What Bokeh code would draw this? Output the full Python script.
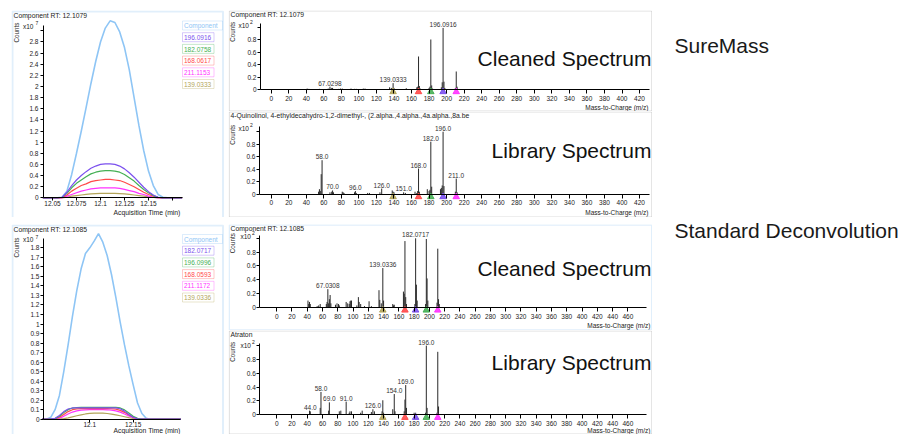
import math
from bokeh.plotting import figure
from bokeh.models import (Range1d, FixedTicker, NumeralTickFormatter, Label, LabelSet,
                          BoxAnnotation, ColumnDataSource, Spacer)
from bokeh.layouts import row, column
from bokeh.embed import file_html
from bokeh.resources import INLINE
from bokeh.core.properties import value

FONT = "Liberation Sans"

# ---------------- chromatogram data (x10^7 counts) ----------------
time_top = [12.040, 12.045, 12.050, 12.055, 12.060, 12.065, 12.070, 12.075, 12.080, 12.085,
            12.090, 12.095, 12.100, 12.105, 12.110, 12.115, 12.120, 12.125, 12.130, 12.135,
            12.140, 12.145, 12.150, 12.155, 12.160, 12.165, 12.170, 12.175, 12.180, 12.185]
comp_top = [0, 0, 0, 0, 0.01, 0.12, 0.42, 0.80, 1.20, 1.62, 2.05, 2.45, 2.80, 3.05, 3.18,
            3.15, 2.98, 2.70, 2.30, 1.80, 1.30, 0.85, 0.48, 0.22, 0.06, 0.01, 0, 0, 0, 0]
ion196_top = [0, 0, 0, 0, 0.01, 0.10, 0.22, 0.32, 0.40, 0.47, 0.53, 0.57, 0.60, 0.61, 0.61,
              0.60, 0.57, 0.52, 0.45, 0.37, 0.28, 0.19, 0.11, 0.05, 0.01, 0, 0, 0, 0, 0]
ion182_top = [0, 0, 0, 0, 0.01, 0.08, 0.18, 0.26, 0.32, 0.38, 0.43, 0.46, 0.48, 0.49, 0.49,
              0.48, 0.46, 0.42, 0.36, 0.30, 0.22, 0.15, 0.09, 0.04, 0.01, 0, 0, 0, 0, 0]
ion168_top = [0, 0, 0, 0, 0.005, 0.05, 0.12, 0.17, 0.22, 0.25, 0.29, 0.31, 0.32, 0.33, 0.33,
              0.32, 0.31, 0.28, 0.24, 0.20, 0.15, 0.10, 0.06, 0.03, 0.005, 0, 0, 0, 0, 0]
ion211_top = [0, 0, 0, 0, 0, 0.03, 0.06, 0.09, 0.12, 0.14, 0.16, 0.17, 0.18, 0.18, 0.18,
              0.18, 0.17, 0.15, 0.13, 0.11, 0.08, 0.06, 0.03, 0.01, 0, 0, 0, 0, 0, 0]
ion139_top = [0, 0, 0, 0, 0, 0.01, 0.03, 0.04, 0.05, 0.06, 0.07, 0.075, 0.08, 0.08, 0.08,
              0.08, 0.075, 0.07, 0.06, 0.05, 0.04, 0.03, 0.015, 0.005, 0, 0, 0, 0, 0, 0]
legend_top = ["Component", "196.0916", "182.0758", "168.0617", "211.1153", "139.0333"]

time_bot = [12.045, 12.050, 12.055, 12.060, 12.065, 12.070, 12.075, 12.080, 12.085, 12.090,
            12.095, 12.100, 12.105, 12.110, 12.115, 12.120, 12.125, 12.130, 12.135, 12.140,
            12.145, 12.150, 12.155, 12.160, 12.165, 12.170, 12.175, 12.180, 12.185, 12.190,
            12.195, 12.200, 12.205]
comp_bot = [0, 0, 0.02, 0.10, 0.25, 0.50, 0.78, 1.08, 1.35, 1.58, 1.74, 1.80, 1.87, 1.95, 1.86,
            1.72, 1.52, 1.28, 1.02, 0.78, 0.56, 0.36, 0.17, 0.06, 0.01, 0, 0, 0, 0, 0, 0, 0, 0]
ion182_bot = [0, 0, 0, 0.01, 0.04, 0.08, 0.107, 0.118, 0.12, 0.12, 0.12, 0.12, 0.12, 0.12, 0.12,
              0.12, 0.12, 0.119, 0.11, 0.085, 0.05, 0.02, 0.005, 0, 0, 0, 0, 0, 0, 0, 0, 0, 0]
ion196_bot = [0, 0, 0, 0.006, 0.03, 0.07, 0.10, 0.117, 0.123, 0.125, 0.125, 0.125, 0.125, 0.125,
              0.125, 0.125, 0.125, 0.124, 0.118, 0.098, 0.065, 0.03, 0.01, 0.002, 0, 0, 0, 0, 0,
              0, 0, 0, 0]
ion168_bot = [0, 0, 0, 0.004, 0.02, 0.05, 0.08, 0.10, 0.108, 0.111, 0.112, 0.112, 0.112, 0.112,
              0.112, 0.112, 0.11, 0.105, 0.093, 0.072, 0.045, 0.02, 0.006, 0.001, 0, 0, 0, 0, 0,
              0, 0, 0, 0]
ion211_bot = [0, 0, 0, 0.002, 0.01, 0.03, 0.055, 0.075, 0.088, 0.095, 0.098, 0.10, 0.10, 0.10,
              0.10, 0.099, 0.095, 0.087, 0.074, 0.055, 0.033, 0.015, 0.005, 0.001, 0, 0, 0, 0, 0,
              0, 0, 0, 0]
ion139_bot = [0, 0, 0, 0, 0.002, 0.006, 0.014, 0.025, 0.036, 0.046, 0.055, 0.061, 0.064, 0.065,
              0.064, 0.06, 0.054, 0.046, 0.036, 0.026, 0.016, 0.008, 0.003, 0.001, 0, 0, 0, 0, 0,
              0, 0, 0, 0]
legend_bot = ["Component", "182.0717", "196.0996", "168.0593", "211.1172", "139.0336"]

xticks_top = [12.05, 12.075, 12.1, 12.125, 12.15, 12.175]
yticks_top = [0, 0.2, 0.4, 0.6, 0.8, 1, 1.2, 1.4, 1.6, 1.8, 2, 2.2, 2.4, 2.6, 2.8, 3]
xticks_bot = [12.1, 12.15]
yticks_bot = [0, 0.1, 0.2, 0.3, 0.4, 0.5, 0.6, 0.7, 0.8, 0.9, 1, 1.1, 1.2, 1.3, 1.4, 1.5, 1.6,
              1.7, 1.8]

# ---------------- spectra data (x10^2 counts) ----------------
mz_clean1 = [41, 43, 44, 53, 55, 57, 65, 67, 69, 70, 77, 79, 81, 91, 95, 97, 105, 107, 110, 121,
             135, 137, 139, 140, 150, 152, 154, 166, 167, 168, 169, 170, 180, 181, 182, 183, 184,
             194, 195, 196, 197, 198, 210, 211, 212]
int_clean1 = [0.02, 0.015, 0.01, 0.01, 0.015, 0.01, 0.02, 0.05, 0.03, 0.03, 0.015, 0.02, 0.02,
              0.02, 0.015, 0.015, 0.02, 0.02, 0.01, 0.01, 0.04, 0.03, 0.107, 0.03, 0.01, 0.01,
              0.025, 0.04, 0.05, 0.533, 0.06, 0.02, 0.03, 0.05, 0.805, 0.07, 0.02, 0.04, 0.12,
              0.99, 0.13, 0.03, 0.03, 0.293, 0.05]
lab_mz_clean1 = [67, 139, 196]
lab_h_clean1 = [0.05, 0.107, 0.99]
lab_txt_clean1 = ["67.0298", "139.0333", "196.0916"]

mz_lib1 = [54, 55, 56, 57, 58, 67, 69, 70, 71, 81, 82, 83, 95, 96, 97, 110, 112, 124, 126, 138,
           139, 140, 151, 153, 164, 166, 167, 168, 169, 178, 180, 181, 182, 183, 193, 194, 195,
           196, 197, 210, 211, 212]
int_lib1 = [0.04, 0.08, 0.05, 0.32, 0.544, 0.03, 0.04, 0.06, 0.03, 0.04, 0.03, 0.02, 0.03, 0.05,
            0.02, 0.02, 0.02, 0.03, 0.09, 0.06, 0.04, 0.03, 0.03, 0.02, 0.04, 0.02, 0.05, 0.41,
            0.04, 0.08, 0.05, 0.07, 0.84, 0.12, 0.08, 0.10, 0.14, 1.0, 0.13, 0.04, 0.25, 0.03]
lab_mz_lib1 = [58, 70, 96, 126, 151, 168, 182, 196, 211]
lab_h_lib1 = [0.544, 0.06, 0.05, 0.09, 0.03, 0.41, 0.84, 1.0, 0.25]
lab_txt_lib1 = ["58.0", "70.0", "96.0", "126.0", "151.0", "168.0", "182.0", "196.0", "211.0"]

mz_clean2 = [41, 42, 43, 44, 53, 55, 57, 65, 66, 67, 68, 69, 70, 71, 77, 79, 81, 82, 91, 93, 95,
             96, 97, 98, 105, 107, 108, 110, 115, 121, 124, 134, 135, 137, 139, 140, 152, 153,
             154, 166, 167, 168, 169, 170, 181, 182, 183, 184, 195, 196, 197, 198, 210, 211,
             212, 213]
int_clean2 = [0.10, 0.05, 0.08, 0.05, 0.02, 0.03, 0.05, 0.05, 0.08, 0.265, 0.06, 0.12, 0.18,
              0.06, 0.04, 0.06, 0.05, 0.03, 0.08, 0.06, 0.05, 0.09, 0.10, 0.10, 0.03, 0.15, 0.08,
              0.05, 0.02, 0.09, 0.02, 0.25, 0.11, 0.06, 0.57, 0.10, 0.05, 0.03, 0.04, 0.23, 0.20,
              0.96, 0.15, 0.05, 0.05, 1.0, 0.33, 0.10, 0.05, 0.99, 0.42, 0.10, 0.07, 0.85, 0.12,
              0.05]
lab_mz_clean2 = [67, 139, 182]
lab_h_clean2 = [0.265, 0.57, 1.0]
lab_txt_clean2 = ["67.0308", "139.0336", "182.0717"]

mz_lib2 = [43, 44, 57, 58, 68, 69, 82, 84, 91, 95, 96, 98, 110, 112, 124, 126, 128, 138, 139,
           140, 152, 154, 155, 167, 168, 169, 170, 180, 182, 195, 196, 197, 210, 211, 212]
int_lib2 = [0.06, 0.05, 0.10, 0.33, 0.06, 0.18, 0.05, 0.06, 0.19, 0.03, 0.05, 0.05, 0.03, 0.06,
            0.04, 0.08, 0.05, 0.05, 0.21, 0.03, 0.08, 0.30, 0.05, 0.05, 0.22, 0.43, 0.10, 0.03,
            0.03, 0.03, 1.0, 0.10, 0.03, 0.91, 0.12]
lab_mz_lib2 = [44, 58, 69, 91, 126, 154, 169, 196]
lab_h_lib2 = [0.05, 0.33, 0.18, 0.19, 0.08, 0.30, 0.43, 1.0]
lab_txt_lib2 = ["44.0", "58.0", "69.0", "91.0", "126.0", "154.0", "169.0", "196.0"]

marker_mz = [139, 168, 182, 196, 211]
xticks_spec_top = list(range(0, 421, 20))
xticks_spec_bot = list(range(0, 461, 20))
yticks_spec = [0, 0.2, 0.4, 0.6, 0.8, 1]

# ---------------- styles ----------------
C_COMP = "#8ec5f5"
C_PURPLE = "#7b50ee"
C_GREEN = "#46b055"
C_RED = "#ff4a4a"
C_MAG = "#ff33ff"
C_OLIVE = "#b3a55a"
C_PANEL_BLUE = "#9ccbf3"
C_PANEL_GRAY = "#8a8a8a"
TXT = "#222222"


class Panel:
    """A figure whose frame fills its whole canvas; pixel calibration maps data to page px."""

    def __init__(self, ox, oy, W, H, x_ref, x_ref_px, ppx, y0_px, ppy):
        self.ox, self.oy, self.W, self.H = ox, oy, W, H
        self.x_ref, self.x_ref_px, self.ppx = x_ref, x_ref_px, ppx
        self.y0_px, self.ppy = y0_px, ppy
        xs, xe = self.xd(ox), self.xd(ox + W)
        ys, ye = self.yd(oy + H), self.yd(oy)
        p = figure(width=W, height=H, x_range=Range1d(xs, xe), y_range=Range1d(ys, ye),
                   output_backend="svg", toolbar_location=None, title=None,
                   min_border_left=0, min_border_right=0, min_border_top=0,
                   min_border_bottom=0)
        p.outline_line_color = None
        p.xgrid.visible = False
        p.ygrid.visible = False
        p.background_fill_color = "white"
        p.border_fill_color = "white"
        self.p = p

    def xd(self, px):
        return self.x_ref + (px - self.x_ref_px) / self.ppx

    def yd(self, py):
        return (self.y0_px - py) / self.ppy

    def sx(self, x):
        return x - self.ox

    def sy(self, y):
        return self.H - (y - self.oy)

    def txt(self, x, y, text, size="6.5px", color=TXT, align="left", angle=0.0):
        self.p.add_layout(Label(x=self.sx(x), y=self.sy(y), x_units="screen", y_units="screen",
                                text=text, text_font=FONT, text_font_size=size,
                                text_color=color, text_align=align, text_baseline="middle",
                                angle=angle))

    def rect(self, x0, y0, x1, y1, color, lw=1.0):
        self.p.add_layout(BoxAnnotation(left=self.sx(x0), right=self.sx(x1), top=self.sy(y0),
                                        bottom=self.sy(y1), left_units="screen",
                                        right_units="screen", top_units="screen",
                                        bottom_units="screen", fill_color=None, fill_alpha=0,
                                        line_color=color, line_width=lw, level="overlay"))

    def axes(self, ax_left, ax_right, ax_top, xticks, yticks, xfmt, yfmt, xover, yover,
             xtick_out, xstand, ytick_out, ystand, fsize="6.5px"):
        p = self.p
        xa = p.xaxis[0]
        ya = p.yaxis[0]
        for ax in (xa, ya):
            ax.axis_line_color = "black"
            ax.axis_line_width = 1
            ax.major_tick_line_color = "black"
            ax.minor_tick_line_color = None
            ax.major_tick_in = 0
            ax.major_label_text_font = FONT
            ax.major_label_text_font_size = fsize
            ax.major_label_text_color = TXT
            ax.axis_label = None
        xa.ticker = FixedTicker(ticks=xticks)
        ya.ticker = FixedTicker(ticks=yticks)
        if xfmt:
            xa.formatter = NumeralTickFormatter(format=xfmt)
        ya.formatter = NumeralTickFormatter(format=yfmt)
        if xover:
            xa.major_label_overrides = xover
        if yover:
            ya.major_label_overrides = yover
        xa.major_tick_out = xtick_out
        xa.major_label_standoff = xstand
        ya.major_tick_out = ytick_out
        ya.major_label_standoff = ystand
        x_lo, x_hi = self.xd(ax_left), self.xd(ax_right)
        xa.fixed_location = 0
        xa.bounds = (x_lo, x_hi)
        ya.fixed_location = x_lo
        ya.bounds = (0, self.yd(ax_top))


def chrom_panel(pn, times, series, colors, legend, legend_top_y, ax_right, ax_top, xticks,
                yticks, xfmt, xover, yover, title, ylab_y, x10_y, acq_y, ystand):
    p = pn.p
    for ys, c in zip(series, colors):
        lw = 1.6 if c == C_COMP else 1.2
        p.line(times, ys, line_color=c, line_width=lw)
    pn.axes(43, ax_right, ax_top, xticks, yticks, xfmt, "0.[0]", xover, yover, 3, 0, 3, ystand)
    pn.rect(pn.ox + 1, pn.oy + 1, pn.ox + pn.W - 1.5, pn.oy + 240, C_PANEL_BLUE, 2.0)
    pn.txt(13, pn.oy + 4.5, title, size="6.8px")
    pn.txt(16, ylab_y, "Counts", size="6.3px", align="center", angle=math.pi / 2)
    pn.txt(22.5, x10_y, "x10", size="6.5px")
    pn.txt(35, x10_y - 3, "7", size="5px")
    pn.txt(180, acq_y, "Acquisition Time (min)", size="6.8px", align="right")
    leg_colors = [C_COMP] + colors[1:][::-1]
    for i, (name, c) in enumerate(zip(legend, leg_colors)):
        top = legend_top_y + i * 11.7
        right = 222 if i == 0 else 213.5
        pn.rect(182, top, right, top + 9, c, 1.0)
        pn.txt(183.5, top + 4.6, name, size="6.5px", color=c)
    return p


def spec_panel(pn, mz, inten, lab_mz, lab_h, lab_txt, xticks, marker_colors, tri_px,
               ax_left, ax_right, ax_top, title, border_color, big_text, big_x, big_mid, x10_x,
               mz_label_x, mz_label_y):
    p = pn.p
    src = ColumnDataSource(dict(mz=mz, h=inten))
    p.segment(x0="mz", y0=0, x1="mz", y1="h", source=src, line_color="#2a2a2a", line_width=1)
    tri_y = -tri_px / pn.ppy
    p.scatter(x=marker_mz, y=[tri_y] * len(marker_mz), marker="triangle", size=6.5,
              fill_color=marker_colors, line_color=marker_colors, fill_alpha=0.9)
    lsrc = ColumnDataSource(dict(x=lab_mz, y=lab_h, t=lab_txt))
    p.add_layout(LabelSet(x="x", y="y", text="t", source=lsrc, text_align="center",
                          text_baseline="bottom", y_offset=1, text_font=value(FONT),
                          text_font_size="6.5px", text_color="#333333"))
    pn.axes(ax_left, ax_right, ax_top, xticks, yticks_spec, None, "0.[0]", None, {1: ""},
            4, 2, 3, 1)
    bw = 1.5 if border_color == C_PANEL_BLUE else 1.0
    pn.rect(pn.ox + 0.75, pn.oy + 0.5, pn.ox + pn.W - 0.75, min(pn.oy + pn.H - 0.5, 436),
            border_color, bw)
    pn.txt(230, pn.oy + 4.3, title, size="6.8px")
    yl = ax_top
    pn.txt(232, yl + 8, "Counts", size="6.3px", align="center", angle=math.pi / 2)
    pn.txt(x10_x, yl + 1.2, "x10", size="6.5px")
    pn.txt(x10_x + 11.5, yl - 1.8, "2", size="5px")
    pn.txt(mz_label_x, mz_label_y, "Mass-to-Charge (m/z)", size="6.5px", align="right")
    pn.txt(big_x, big_mid, big_text, size="21px", color="#111111", align="right")
    return p


# ---------------- top-left chromatogram ----------------
pnTL = Panel(11, 10, 213, 207, 12.05, 52, 960.0, 197.3, 55.65)
pTL = chrom_panel(pnTL, time_top,
                  [comp_top, ion139_top, ion211_top, ion168_top, ion182_top, ion196_top],
                  [C_COMP, C_OLIVE, C_MAG, C_RED, C_GREEN, C_PURPLE], legend_top, 20.5,
                  182, 25, xticks_top, yticks_top, "0.[000]", {12.175: ""}, {3: ""},
                  "Component RT: 12.1079", 32, 25.5, 212.3, 2)

# ---------------- bottom-left chromatogram ----------------
pnBL = Panel(11, 224, 213, 210, 12.1, 89.3, 868.0, 418.7, 95.2)
pBL = chrom_panel(pnBL, time_bot,
                  [comp_bot, ion139_bot, ion211_bot, ion168_bot, ion196_bot, ion182_bot],
                  [C_COMP, C_OLIVE, C_MAG, C_RED, C_GREEN, C_PURPLE], legend_bot, 234,
                  180, 238, xticks_bot, yticks_bot, "0.[00]", None, None,
                  "Component RT: 12.1085", 247, 239, 429.5, 1)

# ---------------- spectra ----------------
cols_top = [C_OLIVE, C_RED, C_GREEN, C_PURPLE, C_MAG]
cols_bot = [C_OLIVE, C_RED, C_PURPLE, C_GREEN, C_MAG]

pnTRc = Panel(228, 10, 424, 101, 0, 270.7, 0.877, 89.3, 62.5)
pTRc = spec_panel(pnTRc, mz_clean1, int_clean1, lab_mz_clean1, lab_h_clean1, lab_txt_clean1,
                  xticks_spec_top, cols_top, 2.0, 260, 649, 23.3,
                  "Component RT: 12.1079", C_PANEL_GRAY, "Cleaned Spectrum", 651, 57.5, 238,
                  648, 107.3)

pnTRl = Panel(228, 111, 424, 106, 0, 270.7, 0.877, 193.7, 62.5)
pTRl = spec_panel(pnTRl, mz_lib1, int_lib1, lab_mz_lib1, lab_h_lib1, lab_txt_lib1,
                  xticks_spec_top, cols_top, 2.6, 259, 649, 126.3,
                  "4-Quinolinol, 4-ethyldecahydro-1,2-dimethyl-, (2.alpha.,4.alpha.,4a.alpha.,8a.be",
                  C_PANEL_GRAY, "Library Spectrum", 651, 150, 238, 648, 212.3)

pnBRc = Panel(228, 224, 424, 106, 0, 276.2, 0.7634, 307, 69.2)
pBRc = spec_panel(pnBRc, mz_clean2, int_clean2, lab_mz_clean2, lab_h_clean2, lab_txt_clean2,
                  xticks_spec_bot, cols_bot, 2.7, 259.3, 646, 234.7,
                  "Component RT: 12.1085", C_PANEL_BLUE, "Cleaned Spectrum", 651, 268, 240,
                  650, 325.3)

pnBRl = Panel(228, 330, 424, 104, 0, 276.2, 0.7634, 414.3, 69.2)
pBRl = spec_panel(pnBRl, mz_lib2, int_lib2, lab_mz_lib2, lab_h_lib2, lab_txt_lib2,
                  xticks_spec_bot, cols_bot, 2.7, 259.3, 646, 343.3,
                  "Atraton", C_PANEL_GRAY, "Library Spectrum", 651, 361.7, 240, 650, 429.5)

# ---------------- right-hand captions ----------------
pnR = Panel(652, 0, 252, 434, 0, 652, 1.0, 434, 1.0)
pnR.p.xaxis.visible = False
pnR.p.yaxis.visible = False
pnR.txt(674, 44.5, "SureMass", size="21px", color="#1a1a1a")
pnR.txt(674, 230, "Standard Deconvolution", size="21px", color="#1a1a1a")
pR = pnR.p

left_col = column(Spacer(width=213, height=10), pTL, Spacer(width=213, height=7), pBL)
mid_col = column(Spacer(width=424, height=10), pTRc, pTRl, Spacer(width=424, height=7), pBRc, pBRl)
root = row(Spacer(width=11, height=434), left_col, Spacer(width=4, height=434), mid_col, pR)

open("out.html", "w").write(file_html(root, INLINE))
